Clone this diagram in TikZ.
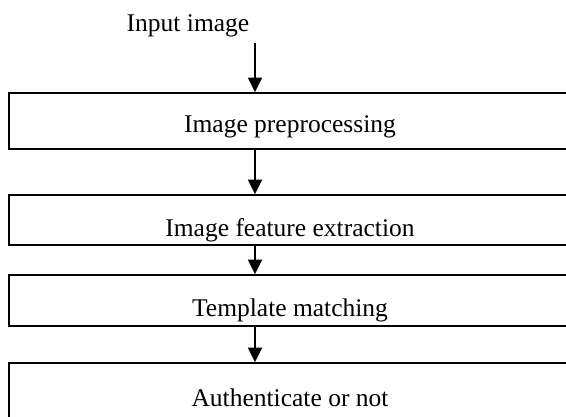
\documentclass[tikz,border=0pt]{standalone}
\usepackage{fontspec}
\setmainfont{Liberation Serif}
\usetikzlibrary{arrows.meta}

\tikzset{
  stagebox/.style={draw=black, line width=1.8pt, rectangle, inner sep=0pt,
    minimum width=562pt},
  stagetext/.style={anchor=base, inner sep=0pt,
    font=\fontsize{25.5}{30}\selectfont},
  flow/.style={line width=1.5pt, -{Triangle[length=14.5pt,width=14pt]}}
}

\begin{document}
\begin{tikzpicture}[x=1pt, y=-1pt]
  \useasboundingbox (0,0) rectangle (566,417);
  \fill[white] (0,0) rectangle (566,417);

  % input label and the start of the first arrow
  \node[stagetext] (inp) at (188,32) {Input image};
  \coordinate (start) at (255,43);

  % processing stages (boxes run past the right edge)
  \node[stagebox, minimum height=56pt] (b1) at (290,121) {};
  \node[stagebox, minimum height=50pt] (b2) at (290,220) {};
  \node[stagebox, minimum height=51pt] (b3) at (290,300.5) {};
  \node[stagebox, minimum height=55pt] (b4) at (290,390.5) {};

  \node[stagetext] (t1) at ([yshift=-40pt]b1.north) {Image preprocessing};
  \node[stagetext] (t2) at ([yshift=-42pt]b2.north) {Image feature extraction};
  \node[stagetext] (t3) at ([yshift=-42pt]b3.north) {Template matching};
  \node[stagetext] (t4) at ([yshift=-44pt]b4.north) {Authenticate or not};

  % connectors along x = 255
  \draw[flow] (start) -- (start |- b1.north);
  \draw[flow] (start |- b1.south) -- (start |- b2.north);
  \draw[flow] (start |- b2.south) -- (start |- b3.north);
  \draw[flow] (start |- b3.south) -- (start |- b4.north);
\end{tikzpicture}
\end{document}
